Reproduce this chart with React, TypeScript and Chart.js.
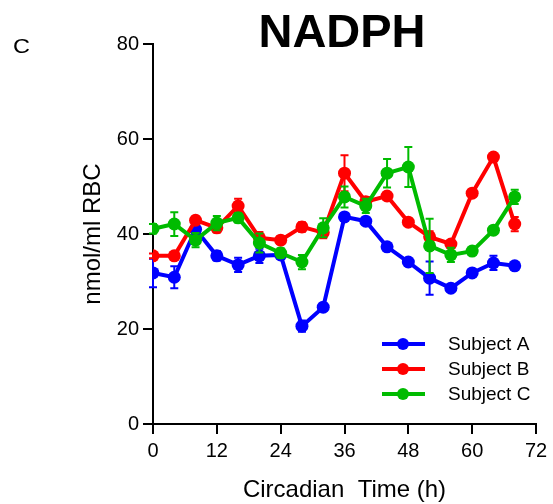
import React, { useEffect, useRef } from "react";
import { Chart, registerables } from "chart.js";

Chart.register(...registerables);

const hours = [0, 4, 8, 12, 16, 20, 24, 28, 32, 36, 40, 44, 48, 52, 56, 60, 64, 68];
const subjectA = [31.8, 30.9, 41.0, 35.4, 33.5, 35.4, 35.6, 20.6, 24.6, 43.6, 42.7, 37.3, 34.1, 30.7, 28.6, 31.8, 33.9, 33.3];
const subjectAErr = [3.0, 2.3, 1.5, 1.0, 1.5, 1.5, 0.5, 1.2, 0.5, 0.5, 0.5, 0.5, 0.5, 3.5, 0.5, 0.5, 1.5, 0.5];
const subjectB = [35.4, 35.4, 42.9, 41.3, 45.9, 39.2, 38.7, 41.5, 40.3, 52.8, 46.8, 48.0, 42.5, 39.4, 37.9, 48.6, 56.2, 42.1];
const subjectBErr = [0.5, 0.5, 0.8, 1.0, 1.5, 1.2, 0.8, 1.0, 1.2, 3.8, 1.0, 0.5, 0.5, 1.2, 0.5, 0.5, 0.5, 1.5];
const subjectC = [41.1, 42.1, 38.7, 42.3, 43.4, 38.1, 36.0, 34.1, 41.3, 47.8, 45.9, 52.8, 54.1, 37.5, 35.6, 36.4, 40.8, 47.8];
const subjectCErr = [1.0, 2.5, 1.5, 1.5, 1.0, 2.0, 1.0, 1.5, 2.0, 2.2, 1.5, 3.0, 4.2, 5.7, 1.5, 0.5, 0.5, 1.5];

const seriesNames = ["Subject A", "Subject B", "Subject C"];
const seriesColors = ["#0000ff", "#ff0000", "#00bb00"];
const seriesValues = [subjectA, subjectB, subjectC];
const seriesErrors = [subjectAErr, subjectBErr, subjectCErr];

const FONT = "'Liberation Sans', Arial, Helvetica, sans-serif";

const errorBarPlugin = {
  id: "errorBars",
  beforeDatasetDraw(chart: any, args: any) {
    const ds = chart.data.datasets[args.index];
    const errs: number[] = ds.errors;
    if (!errs) return;
    const yScale = chart.scales.y;
    const ctx = chart.ctx;
    ctx.save();
    ctx.strokeStyle = ds.borderColor;
    ctx.lineWidth = 2;
    args.meta.data.forEach((pt: any, i: number) => {
      const v = ds.data[i].y;
      const e = errs[i];
      const yTop = yScale.getPixelForValue(v + e);
      const yBot = yScale.getPixelForValue(v - e);
      const x = pt.x;
      ctx.beginPath();
      ctx.moveTo(x, yTop);
      ctx.lineTo(x, yBot);
      ctx.moveTo(x - 4, yTop);
      ctx.lineTo(x + 4, yTop);
      ctx.moveTo(x - 4, yBot);
      ctx.lineTo(x + 4, yBot);
      ctx.stroke();
    });
    ctx.restore();
  },
};

const decorPlugin = {
  id: "decor",
  afterDraw(chart: any) {
    const ctx = chart.ctx;
    const area = chart.chartArea;
    ctx.save();
    // Title
    ctx.fillStyle = "#000";
    ctx.font = `bold 47px ${FONT}`;
    ctx.textAlign = "center";
    ctx.textBaseline = "alphabetic";
    ctx.fillText("NADPH", 342, 47);
    // Panel letter
    ctx.save();
    ctx.translate(13, 53);
    ctx.scale(1.12, 1);
    ctx.font = `21px ${FONT}`;
    ctx.textAlign = "left";
    ctx.fillText("C", 0, 0);
    ctx.restore();
    // Legend
    const rowYs = [area.bottom - 80, area.bottom - 55, area.bottom - 30];
    const lineStart = area.right - 154;
    seriesNames.forEach((name, i) => {
      const y = rowYs[i];
      ctx.strokeStyle = seriesColors[i];
      ctx.fillStyle = seriesColors[i];
      ctx.lineWidth = 4;
      ctx.beginPath();
      ctx.moveTo(lineStart, y);
      ctx.lineTo(lineStart + 43, y);
      ctx.stroke();
      ctx.beginPath();
      ctx.arc(lineStart + 21, y, 6, 0, Math.PI * 2);
      ctx.fill();
      ctx.fillStyle = "#000";
      ctx.font = `19px ${FONT}`;
      ctx.textAlign = "left";
      ctx.textBaseline = "middle";
      ctx.fillText(name, lineStart + 66, y + 1);
    });
    ctx.restore();
  },
};

export default function App() {
  const canvasRef = useRef<HTMLCanvasElement | null>(null);

  useEffect(() => {
    if (!canvasRef.current) return;
    const order = [3, 2, 1];
    const chart = new Chart(canvasRef.current, {
      type: "line",
      data: {
        datasets: seriesNames.map((name, i) => ({
          label: name,
          data: hours.map((h, j) => ({ x: h, y: seriesValues[i][j] })),
          errors: seriesErrors[i],
          borderColor: seriesColors[i],
          backgroundColor: seriesColors[i],
          borderWidth: 4,
          pointRadius: 6.5,
          pointBorderWidth: 0,
          pointBackgroundColor: seriesColors[i],
          tension: 0,
          order: order[i],
        })) as any,
      },
      options: {
        responsive: false,
        animation: false,
        layout: { padding: { top: 44, right: 17, left: 0, bottom: 0 } },
        plugins: {
          legend: { display: false },
          tooltip: { enabled: false },
          title: { display: false },
        },
        scales: {
          x: {
            type: "linear",
            min: 0,
            max: 72,
            afterFit: (scale: any) => {
              scale.height = 80;
            },
            ticks: {
              stepSize: 12,
              color: "#000",
              padding: 5,
              font: { family: FONT, size: 20 },
              maxRotation: 0,
            },
            grid: {
              display: true,
              drawOnChartArea: false,
              drawTicks: true,
              tickLength: 10,
              color: "#000",
              lineWidth: 2,
            },
            border: { display: true, color: "#000", width: 2 },
            title: {
              display: true,
              text: "Circadian  Time (h)",
              color: "#000",
              font: { family: FONT, size: 24, lineHeight: 1.15 },
              padding: { top: 0, bottom: 0 },
            },
          },
          y: {
            type: "linear",
            min: 0,
            max: 80,
            afterFit: (scale: any) => {
              scale.width = 153;
            },
            ticks: {
              stepSize: 20,
              color: "#000",
              padding: 4,
              font: { family: FONT, size: 20 },
            },
            grid: {
              display: true,
              drawOnChartArea: false,
              drawTicks: true,
              tickLength: 10,
              color: "#000",
              lineWidth: 2,
            },
            border: { display: true, color: "#000", width: 2 },
            title: {
              display: true,
              text: "nmol/ml RBC",
              color: "#000",
              font: { family: FONT, size: 24 },
              padding: { top: 79, bottom: 0 },
            },
          },
        },
      } as any,
      plugins: [errorBarPlugin, decorPlugin],
    });
    return () => chart.destroy();
  }, []);

  return (
    <canvas
      ref={canvasRef}
      width={553}
      height={504}
      style={{ position: "absolute", left: 0, top: 0, width: 553, height: 504 }}
    />
  );
}
